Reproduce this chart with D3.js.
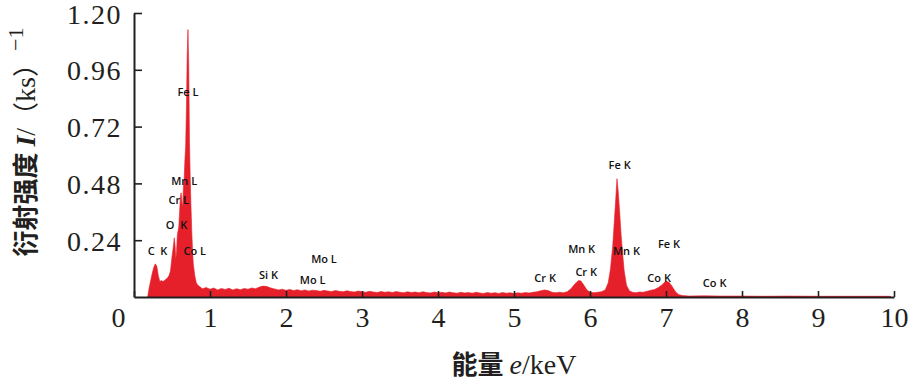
<!DOCTYPE html>
<html><head><meta charset="utf-8">
<script src="https://cdn.jsdelivr.net/npm/d3@7"></script>
<style>
html,body{margin:0;padding:0;background:#fff;}
svg{display:block;}
</style></head>
<body>
<svg id="chart" width="910" height="386"></svg>
<script>
// ---- data ----
const energy = [0.18,0.20,0.22,0.24,0.26,0.28,0.30,0.32,0.34,0.36,0.38,0.40,0.42,0.44,0.46,0.48,0.50,0.52,0.53,0.54,0.55,0.56,0.57,0.58,0.59,0.60,0.61,0.62,0.63,0.64,0.65,0.66,0.67,0.68,0.69,0.70,0.71,0.72,0.73,0.74,0.75,0.76,0.77,0.78,0.80,0.82,0.84,0.86,
0.90,0.95,1.00,1.05,1.10,1.15,1.20,1.25,1.30,1.35,1.40,1.45,1.50,1.55,1.60,1.65,1.70,1.75,1.80,1.85,1.90,1.95,2.00,2.05,2.10,2.15,2.20,2.25,2.30,2.35,2.40,2.45,2.50,2.55,2.60,2.65,2.70,2.75,2.80,2.85,2.90,2.95,
3.00,3.05,3.10,3.15,3.20,3.25,3.30,3.35,3.40,3.45,3.50,3.55,3.60,3.65,3.70,3.75,3.80,3.85,3.90,3.95,4.00,4.05,4.10,4.15,4.20,4.25,4.30,4.35,4.40,4.45,4.50,4.55,4.60,4.65,4.70,4.75,4.80,4.85,4.90,4.95,
5.00,5.05,5.10,5.15,5.20,5.25,5.30,5.35,5.40,5.45,5.50,5.55,5.60,5.65,5.70,5.75,5.80,5.85,5.88,5.92,5.96,6.00,6.05,6.10,6.15,6.20,6.24,6.27,6.30,6.32,6.34,6.355,6.37,6.39,6.41,6.43,6.45,6.48,6.52,6.56,6.60,6.65,6.70,6.75,6.80,6.85,6.90,6.95,6.98,7.01,7.04,7.07,7.10,7.13,7.17,7.22,
7.30,7.50,7.70,8.00,8.30,8.60,9.00,9.50,9.95,9.96];
const intensity = [0.00,0.04,0.07,0.10,0.125,0.14,0.13,0.09,0.065,0.07,0.065,0.07,0.075,0.08,0.09,0.11,0.17,0.22,0.25,0.22,0.16,0.19,0.26,0.28,0.30,0.36,0.42,0.44,0.40,0.38,0.46,0.50,0.58,0.64,0.80,1.02,1.13,0.98,0.66,0.50,0.38,0.28,0.20,0.14,0.09,0.06,0.05,0.045,
0.035,0.04,0.033,0.038,0.03,0.036,0.032,0.037,0.03,0.035,0.031,0.036,0.033,0.038,0.035,0.042,0.046,0.044,0.038,0.034,0.03,0.033,0.028,0.032,0.027,0.031,0.026,0.03,0.025,0.029,0.027,0.024,0.028,0.025,0.023,0.027,0.024,0.022,0.026,0.023,0.021,0.025,
0.022,0.02,0.024,0.021,0.019,0.023,0.02,0.022,0.019,0.023,0.02,0.018,0.022,0.019,0.021,0.018,0.022,0.019,0.017,0.021,0.018,0.02,0.017,0.021,0.018,0.016,0.02,0.017,0.019,0.016,0.02,0.017,0.015,0.019,0.016,0.018,0.015,0.019,0.016,0.018,
0.015,0.018,0.016,0.019,0.017,0.02,0.022,0.026,0.03,0.027,0.02,0.018,0.02,0.018,0.022,0.035,0.055,0.07,0.068,0.05,0.03,0.02,0.018,0.02,0.022,0.03,0.06,0.12,0.22,0.32,0.42,0.50,0.45,0.36,0.26,0.18,0.11,0.05,0.025,0.02,0.018,0.021,0.02,0.024,0.028,0.032,0.04,0.052,0.062,0.066,0.062,0.05,0.035,0.02,0.01,0.006,
0.004,0.005,0.004,0.004,0.003,0.004,0.003,0.003,0.003,0.0];

const peakNames  = ["Fe L","Mn L","Cr L","O  K","C  K","Co L","Si K","Mo L","Mo L","Fe K","Mn K","Mn K","Fe K","Cr K","Cr K","Co K","Co K"];
const peakEnergy = [0.71,0.66,0.59,0.56,0.31,0.80,1.77,2.35,2.50,6.39,5.89,6.48,7.04,5.41,5.95,6.91,7.64];
const peakLevel  = [0.862,0.486,0.406,0.30,0.19,0.19,0.089,0.068,0.156,0.554,0.199,0.19,0.22,0.076,0.101,0.076,0.055];

const xTicks = [0,1,2,3,4,5,6,7,8,9,10];
const yTicks = [0.24,0.48,0.72,0.96,1.20];

// ---- layout ----
const W = 910, H = 386;
const m = {left:134, right:16, top:13, bottom:89};
const svg = d3.select("#chart");
const x = d3.scaleLinear().domain([0,10]).range([m.left, W - m.right]);
const y = d3.scaleLinear().domain([0,1.2]).range([H - m.bottom, m.top]);
const axisColor = "#231f20";

const pts = energy.map((e,i)=>[e,intensity[i]]);
const area = d3.area().x(d=>x(d[0])).y0(y(0)).y1(d=>y(d[1]));
svg.append("path").datum(pts).attr("d",area).attr("fill","#e5202a").attr("stroke","#e5202a").attr("stroke-width",0.6);

// x axis
const gx = svg.append("g").attr("transform",`translate(0,${y(0)})`)
  .call(d3.axisBottom(x).tickValues(xTicks).tickFormat(d3.format("d")).tickSizeInner(-6).tickSizeOuter(0));
gx.select(".domain").attr("stroke",axisColor).attr("stroke-width",2);
gx.selectAll(".tick line").attr("stroke",axisColor).attr("stroke-width",1.6);
gx.selectAll(".tick text").attr("font-family","'Liberation Serif',serif").attr("font-size",28)
  .attr("fill",axisColor).attr("y",30).attr("dy",0)
  .attr("dx",d=>d===0?-16:0);

// y axis
const gy = svg.append("g").attr("transform",`translate(${x(0)},0)`)
  .call(d3.axisLeft(y).tickValues(yTicks).tickFormat(d3.format(".2f")).tickSizeInner(-8).tickSizeOuter(0));
gy.select(".domain").attr("stroke",axisColor).attr("stroke-width",2);
gy.selectAll(".tick line").attr("stroke",axisColor).attr("stroke-width",1.6);
gy.selectAll(".tick text").attr("font-family","'Liberation Serif',serif").attr("font-size",28)
  .attr("fill",axisColor).attr("x",-12).attr("dy","0.36em").attr("letter-spacing",1.5);

// peak labels
svg.append("g").selectAll("text").data(peakNames).join("text")
  .attr("x",(d,i)=>x(peakEnergy[i])).attr("y",(d,i)=>y(peakLevel[i]))
  .attr("text-anchor","middle").attr("dominant-baseline","middle")
  .attr("font-family","'Open Sans',sans-serif").attr("font-size",11).attr("font-weight",600)
  .attr("fill","#111").attr("xml:space","preserve").style("white-space","pre")
  .text(d=>d);

// x title
const xt = svg.append("text").attr("x",(x(0)+x(10))/2).attr("y",374).attr("text-anchor","middle").attr("fill",axisColor);
xt.append("tspan").attr("font-family","'Noto Sans CJK SC'").attr("font-size",26).attr("font-weight",700).text("能量 ");
xt.append("tspan").attr("font-family","'Liberation Serif',serif").attr("font-size",28).attr("font-style","italic").text("e");
xt.append("tspan").attr("font-family","'Liberation Serif',serif").attr("font-size",28).text("/keV");

// y title
const yt = svg.append("text").attr("transform","translate(35,142) rotate(-90)").attr("text-anchor","middle").attr("fill",axisColor);
yt.append("tspan").attr("font-family","'Noto Sans CJK SC'").attr("font-size",26).attr("font-weight",700).text("衍射强度 ");
yt.append("tspan").attr("font-family","'Liberation Serif',serif").attr("font-size",28).attr("font-style","italic").attr("font-weight",700).text("I");
yt.append("tspan").attr("font-family","'Liberation Serif',serif").attr("font-size",28).text("/");
yt.append("tspan").attr("font-family","'Noto Sans CJK SC'").attr("font-size",26).text("（");
yt.append("tspan").attr("font-family","'Liberation Serif',serif").attr("font-size",28).text("ks");
yt.append("tspan").attr("font-family","'Noto Sans CJK SC'").attr("font-size",26).text("）");
yt.append("tspan").attr("font-family","'Liberation Serif',serif").attr("font-size",22).attr("dy",-12).text("−1");
</script>
</body></html>
